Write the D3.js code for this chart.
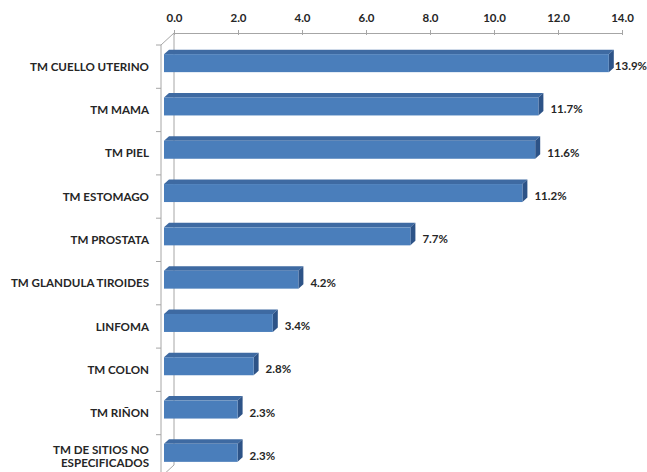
<!DOCTYPE html>
<html>
<head>
<meta charset="utf-8">
<script src="https://cdn.jsdelivr.net/npm/d3@7"></script>
<style>
  html, body { margin: 0; padding: 0; background: #fff; }
  svg { display: block; }
  text { font-family: Lato, "Open Sans", "Liberation Sans", sans-serif; font-weight: bold; fill: #262626; }
</style>
</head>
<body>
<svg id="chart" width="647" height="472"></svg>
<script>
// Tumour types (bars, top to bottom) and their share of cases in percent
const categories = [
  "TM CUELLO UTERINO", "TM MAMA", "TM PIEL", "TM ESTOMAGO", "TM PROSTATA",
  "TM GLANDULA TIROIDES", "LINFOMA", "TM COLON", "TM RIÑON",
  "TM DE SITIOS NO|ESPECIFICADOS"
];
const values = [13.9, 11.7, 11.6, 11.2, 7.7, 4.2, 3.4, 2.8, 2.3, 2.3];
const valueLabels = ["13.9%", "11.7%", "11.6%", "11.2%", "7.7%", "4.2%", "3.4%", "2.8%", "2.3%", "2.3%"];
const axisTicks = [0, 2, 4, 6, 8, 10, 12, 14];

const W = 647, H = 472;
const svg = d3.select("#chart");

// Oblique 3-D frame: the floor runs from the front plane to the back wall
const depthX = 13, depthY = -12;          // front plane -> back wall
const barShiftX = 3, barShiftY = -3.5;    // bar front face inside the floor
const barDepthX = 5, barDepthY = -4.5;    // bar thickness in depth
const barH = 18;

// value scale on the front plane
const x = d3.scaleLinear().domain([0, 14]).range([161, 609]);
const xBack = v => x(v) + depthX;
const xBar = v => x(v) + barShiftX;

// category bands on the front plane
const y = d3.scaleBand().domain(d3.range(categories.length)).range([45, 478]).padding(0);

const axisColor = "#a6a6a6";

// back wall edge and the floor corners
const frame = svg.append("g").attr("stroke", axisColor).attr("stroke-width", 1).attr("fill", "none");
frame.append("line").attr("x1", xBack(0)).attr("x2", xBack(0)).attr("y1", 33).attr("y2", 465);
frame.append("line").attr("x1", x(0)).attr("x2", xBack(0)).attr("y1", 45).attr("y2", 45 + depthY);
frame.append("line").attr("x1", xBack(0)).attr("x2", x(0)).attr("y1", 465).attr("y2", 465 - depthY);
// front category axis
frame.append("line").attr("x1", x(0)).attr("x2", x(0)).attr("y1", 45).attr("y2", H);
d3.range(categories.length + 1).forEach(i => {
  const ty = 45 + i * y.step();
  frame.append("line").attr("x1", x(0) - 5).attr("x2", x(0)).attr("y1", ty).attr("y2", ty);
});

// value axis along the top of the back wall
const xTop = d3.scaleLinear().domain([0, 14]).range([xBack(0), xBack(14)]);
const gTop = svg.append("g").attr("transform", "translate(0,33)")
  .call(d3.axisTop(xTop).tickValues(axisTicks).tickFormat(d3.format(".1f")).tickSize(3).tickPadding(8));
gTop.select(".domain").attr("stroke", axisColor);
gTop.selectAll(".tick line").attr("stroke", axisColor).attr("y2", 2).attr("y1", -3);
gTop.selectAll(".tick text").attr("font-size", 11.5).style("fill", "#262626");

// bars: front face, top face and end face
const colors = { front: "#4a7ebb", top: "#3e6aa2", side: "#2d5387" };
const bars = svg.append("g");
values.forEach((v, i) => {
  const cy = y(i) + y.bandwidth() / 2 + barShiftY;
  const y0 = cy - barH / 2, y1 = cy + barH / 2;
  const x0 = xBar(0), x1 = xBar(v);
  const g = bars.append("g");
  g.append("polygon")
    .attr("points", [[x0, y0], [x0 + barDepthX, y0 + barDepthY], [x1 + barDepthX, y0 + barDepthY], [x1, y0]].join(" "))
    .attr("fill", colors.top);
  g.append("polygon")
    .attr("points", [[x1, y0], [x1 + barDepthX, y0 + barDepthY], [x1 + barDepthX, y1 + barDepthY], [x1, y1]].join(" "))
    .attr("fill", colors.side);
  g.append("rect")
    .attr("x", x0).attr("y", y0).attr("width", x1 - x0).attr("height", barH)
    .attr("fill", colors.front);
});

// value labels to the right of each bar, kept inside the chart
const labels = svg.append("g").attr("font-size", 11.5);
values.forEach((v, i) => {
  const cy = y(i) + y.bandwidth() / 2 + barShiftY;
  const t = labels.append("text").attr("y", cy + 3).attr("dy", "0.35em").text(valueLabels[i]);
  const w = t.node().getComputedTextLength();
  t.attr("x", Math.min(xBar(v) + 12, W - w));
});

// category labels, right-aligned against the category axis
const catG = svg.append("g").attr("font-size", 11.6).attr("text-anchor", "end");
categories.forEach((c, i) => {
  const lines = c.split("|");
  const cy = y(i) + y.bandwidth() / 2;
  const t = catG.append("text").attr("x", 149).attr("y", cy);
  lines.forEach((ln, k) => {
    t.append("tspan").attr("x", 149)
      .attr("dy", k === 0 ? `${0.35 - (lines.length - 1) * 0.58}em` : "1.16em")
      .text(ln);
  });
});
</script>
</body>
</html>
